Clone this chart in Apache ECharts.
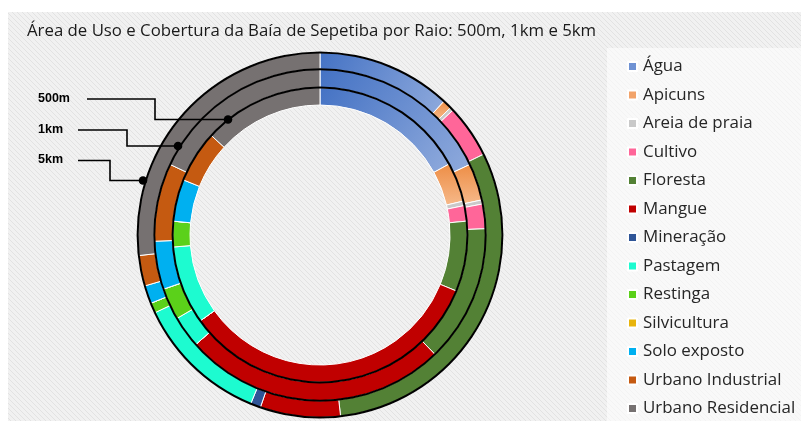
<!DOCTYPE html>
<html>
<head>
<meta charset="utf-8">
<script src="https://cdn.jsdelivr.net/npm/echarts@6/dist/echarts.min.js"></script>
<style>html,body{margin:0;padding:0;background:#fff}#c{width:801px;height:421px}</style>
</head>
<body>
<div id="c"></div>
<script>
// ---- data (percent of area per ring) ----
const categories = ['Água','Apicuns','Areia de praia','Cultivo','Floresta','Mangue','Mineração','Pastagem','Restinga','Silvicultura','Solo exposto','Urbano Industrial','Urbano Residencial'];
const ring500m = [17.0, 4.3, 0.5, 1.7, 7.7, 33.9, 0, 8.6, 2.8, 0, 4.6, 5.7, 13.2];
const ring1km  = [18.0, 3.6, 0.4, 2.4, 13.4, 25.7, 0, 3.1, 3.1, 0, 4.7, 7.6, 18.0];
const ring5km  = [11.9, 0.8, 0.3, 4.7, 30.5, 7.1, 0.9, 11.8, 0.9, 0, 1.6, 2.7, 26.8];
const ringLabels = ['500m','1km','5km'];
const titleText = 'Área de Uso e Cobertura da Baía de Sepetiba por Raio: 500m, 1km e 5km';

const colors = [
  {type:'linear',x:0,y:0,x2:1,y2:1,colorStops:[{offset:0,color:'#4472C4'},{offset:1,color:'#8FAADC'}]},
  {type:'linear',x:0,y:0,x2:0,y2:1,colorStops:[{offset:0,color:'#ED8D45'},{offset:1,color:'#F6B98A'}]},
  '#C9C9C9','#FF6699','#538135','#C00000','#2F5597','#1DFBD0','#5BD11A','#E8B40C','#00B0F0','#C55A11','#767171'
];
const legendColors = ['#6F92D3','#F2A36A','#C9C9C9','#FF6699','#538135','#C00000','#2F5597','#1DFBD0','#5BD11A','#E8B40C','#00B0F0','#C55A11','#767171'];

function makeData(vals){
  return categories.map((n,i)=>({name:n,value:vals[i],itemStyle:{color:colors[i]}}));
}

// background pattern
const pc = document.createElement('canvas');
pc.width = 5; pc.height = 5;
const px = pc.getContext('2d');
px.fillStyle = '#F1F1F1'; px.fillRect(0,0,5,5);
px.strokeStyle = '#E2E2E2'; px.lineWidth = 1;
px.beginPath(); px.moveTo(-1,-1); px.lineTo(6,6); px.stroke();
px.beginPath(); px.moveTo(-1,4); px.lineTo(1,6); px.stroke();
px.beginPath(); px.moveTo(4,-1); px.lineTo(6,1); px.stroke();

const chart = echarts.init(document.getElementById('c'), null, {renderer:'canvas'});
const C = [320, 235];
function ring(name, vals, r0, r1){
  return {type:'pie', name:name, center:C, radius:[r0,r1], startAngle:90, clockwise:true,
    label:{show:false}, labelLine:{show:false}, silent:true, animation:false,
    itemStyle:{borderColor:'#ffffff', borderWidth:1},
    data:makeData(vals)};
}
function blackLine(r){
  return {type:'pie', center:C, radius:[r-1.1,r+0.9], silent:true, animation:false,
    label:{show:false}, labelLine:{show:false}, itemStyle:{color:'#000'},
    data:[{name:'__line',value:1}]};
}
function leader(label, pts, ty){
  return [
    {type:'polyline', shape:{points:pts}, style:{stroke:'#000', lineWidth:1.6, fill:null}, z:100},
    {type:'circle', shape:{cx:pts[pts.length-1][0], cy:pts[pts.length-1][1], r:4.3}, style:{fill:'#000'}, z:101},
    {type:'text', left:38, top:ty-7, style:{text:label, fill:'#000', font:'bold 12.5px "Liberation Sans", Arial, sans-serif'}, z:101}
  ];
}

chart.setOption({
  animation:false,
  backgroundColor:'#ffffff',
  title:{text:titleText, left:22, top:18, textStyle:{fontFamily:'Open Sans', fontSize:16.8, fontWeight:'normal', color:'#1a1a1a'}},
  legend:{
    orient:'vertical', left:627, top:58, height:363, padding:0, itemWidth:9, itemHeight:9, itemGap:11.5, icon:'rect',
    data:categories.map((n,i)=>({name:n, itemStyle:{color:legendColors[i]}})),
    textStyle:{fontFamily:'Open Sans', fontSize:16.9, color:'#262626', lineHeight:16, padding:[0,0,0,1]},
    selectedMode:false
  },
  graphic:[
    {type:'rect', shape:{x:8,y:12,width:793,height:409}, style:{fill:{image:pc, repeat:'repeat'}}, z:-10, silent:true},
    {type:'rect', shape:{x:607,y:48,width:194,height:373}, style:{fill:'rgba(255,255,255,0.6)'}, z:-9, silent:true},
    ...leader(ringLabels[0], [[87,99],[155,99],[155,119.5],[228,119.5]], 99),
    ...leader(ringLabels[1], [[78,130],[127,130],[127,146],[178,146]], 130),
    ...leader(ringLabels[2], [[78,160.5],[110,160.5],[110,180.5],[143,180.5]], 160.5)
  ],
  series:[
    ring('500m', ring500m, 130, 147.5),
    ring('1km', ring1km, 147.5, 165.8),
    ring('5km', ring5km, 165.8, 182.5),
    blackLine(147.5), blackLine(165.8), blackLine(182.5)
  ]
});
</script>
</body>
</html>
